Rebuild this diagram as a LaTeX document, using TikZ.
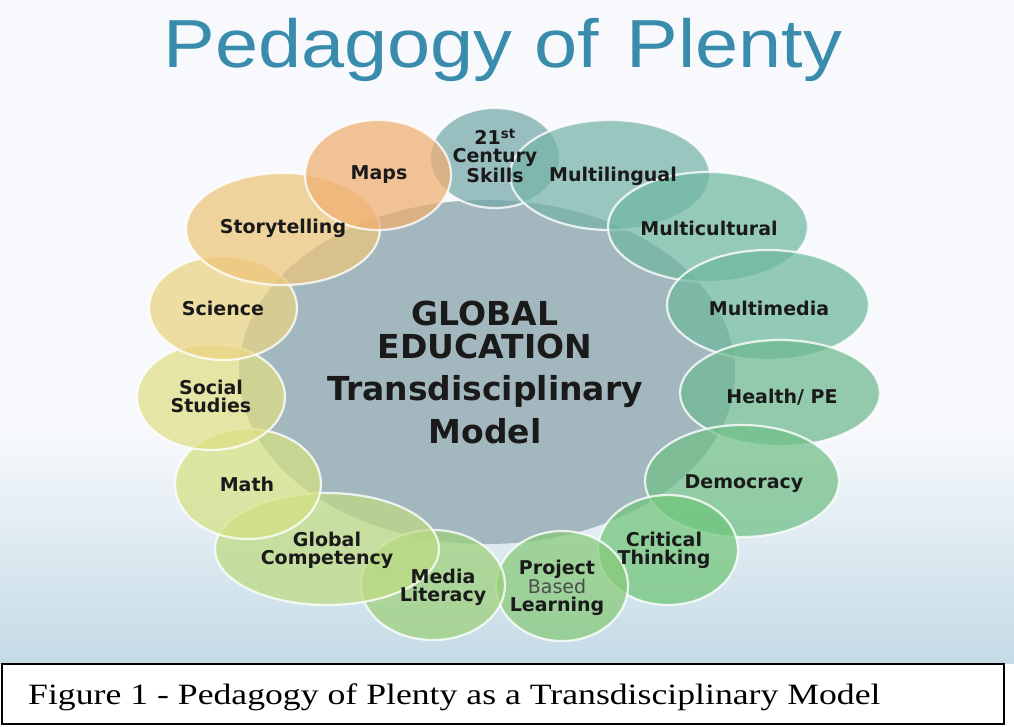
\documentclass[tikz,border=0pt]{standalone}
\usepackage{fontspec}
\usetikzlibrary{shapes.geometric}
\newfontfamily\labfont{DejaVu Sans}
\newfontfamily\titlefont{Liberation Sans}
\newfontfamily\capfont{Liberation Serif}
\definecolor{bgtop}{HTML}{F7F9FC}
\definecolor{bgbot}{HTML}{C4DBE6}
\definecolor{titlec}{HTML}{3A8CAD}
\definecolor{txt}{HTML}{1A1A1A}
\definecolor{core}{HTML}{A3B7BF}
\definecolor{cA}{HTML}{75A8AA}
\definecolor{cB}{HTML}{75B3A7}
\definecolor{cC}{HTML}{70B8A1}
\definecolor{cD}{HTML}{6DB99B}
\definecolor{cE}{HTML}{6DB990}
\definecolor{cF}{HTML}{70BF87}
\definecolor{cG}{HTML}{70C579}
\definecolor{cH}{HTML}{87CA79}
\definecolor{cI}{HTML}{9DD079}
\definecolor{cJ}{HTML}{BDDB82}
\definecolor{cK}{HTML}{D4E182}
\definecolor{cL}{HTML}{DFDE84}
\definecolor{cM}{HTML}{EBD382}
\definecolor{cN}{HTML}{EDC579}
\definecolor{cO}{HTML}{F0AE70}
\begin{document}
\begin{tikzpicture}[x=1pt,y=-1pt,
  bub/.style={ellipse, draw=white, draw opacity=0.8, line width=2.2pt, fill opacity=0.72, inner sep=0pt},
  lab/.style={font={\labfont\bfseries\fontsize{19}{18}\selectfont}, text=txt, align=center, inner sep=0pt},
  mid/.style={font={\labfont\bfseries\fontsize{33}{35}\selectfont}, text=txt, anchor=base, inner sep=0pt}]
\useasboundingbox (0,0) rectangle (1014,726);
% background
\fill[bgtop] (0,0) rectangle (1014,663);
\shade[top color=bgtop, bottom color=bgbot] (0,430) rectangle (1014,663);
% title
\node[font={\titlefont\fontsize{68}{70}\selectfont}, text=titlec, anchor=base, inner sep=0pt] (title) at (503,67) {\scalebox{1.14}[1]{Pedagogy of\hspace{0.36em}Plenty}};
% core
\node[ellipse, fill=core, minimum width=496pt, minimum height=344pt, inner sep=0pt] (core) at (487,372) {};
% ring of ellipses
\node[bub, fill=cA, minimum width=130pt, minimum height=100pt] (e21) at (495,158) {};
\node[bub, fill=cB, minimum width=200pt, minimum height=110pt] (eling) at (610,175) {};
\node[bub, fill=cC, minimum width=200pt, minimum height=110pt] (ecult) at (708,227) {};
\node[bub, fill=cD, minimum width=202pt, minimum height=110pt] (emed) at (768,305) {};
\node[bub, fill=cE, minimum width=200pt, minimum height=106pt] (ehealth) at (780,393) {};
\node[bub, fill=cF, minimum width=194pt, minimum height=112pt] (edemo) at (742,481) {};
\node[bub, fill=cG, minimum width=140pt, minimum height=110pt] (ecrit) at (668,550) {};
\node[bub, fill=cH, minimum width=132pt, minimum height=110pt] (eproj) at (562,586) {};
\node[bub, fill=cI, minimum width=144pt, minimum height=110pt] (emedia) at (433,585) {};
\node[bub, fill=cJ, minimum width=224pt, minimum height=112pt] (eglob) at (327,549) {};
\node[bub, fill=cK, minimum width=146pt, minimum height=110pt] (emath) at (248,484) {};
\node[bub, fill=cL, minimum width=148pt, minimum height=106pt] (esoc) at (211,397) {};
\node[bub, fill=cM, minimum width=148pt, minimum height=104pt] (esci) at (223,308) {};
\node[bub, fill=cN, minimum width=194pt, minimum height=112pt] (estory) at (283,229) {};
\node[bub, fill=cO, minimum width=146pt, minimum height=110pt] (emaps) at (378,175) {};
% labels
\node[lab] (t21) at (495,156) {21\textsuperscript{st}\\Century\\Skills};
\node[lab] (tling) at (613,176) {Multilingual};
\node[lab] (tcult) at (709,228) {Multicultural};
\node[lab] (tmed) at (769,308) {Multimedia};
\node[lab] (thealth) at (782,397) {Health/ PE};
\node[lab] (tdemo) at (744,484) {Democracy};
\node[lab] (tcrit) at (664,550) {Critical\\Thinking};
\node[lab] (tproj) at (557,588) {Project\\{\mdseries\color{black!70}Based}\\Learning};
\node[lab] (tmedia) at (443,587) {Media\\Literacy};
\node[lab] (tglob) at (327,550) {Global\\Competency};
\node[lab] (tmath) at (247,484) {Math};
\node[lab] (tsoc) at (211,396) {Social\\Studies};
\node[lab] (tsci) at (223,308) {Science};
\node[lab] (tstory) at (283,228) {Storytelling};
\node[lab] (tmaps) at (379,175) {Maps};
% centre text
\node[mid] (m1) at (485,325) {GLOBAL};
\node[mid] (m2) at (485,358) {EDUCATION};
\node[mid] (m3) at (485,400) {Transdisciplinary};
\node[mid] (m4) at (485,443) {Model};
% caption
\node[draw=black, line width=2pt, fill=white, minimum width=1002pt, minimum height=60pt, inner sep=0pt] (capbox) at (503,693.5) {};
\node[font={\capfont\fontsize{29.5}{31}\selectfont}, text=black, anchor=base west, inner sep=0pt] (cap) at (28,704) {\scalebox{1.21}[1]{Figure 1 - Pedagogy of Plenty as a Transdisciplinary Model}};
\end{tikzpicture}
\end{document}
